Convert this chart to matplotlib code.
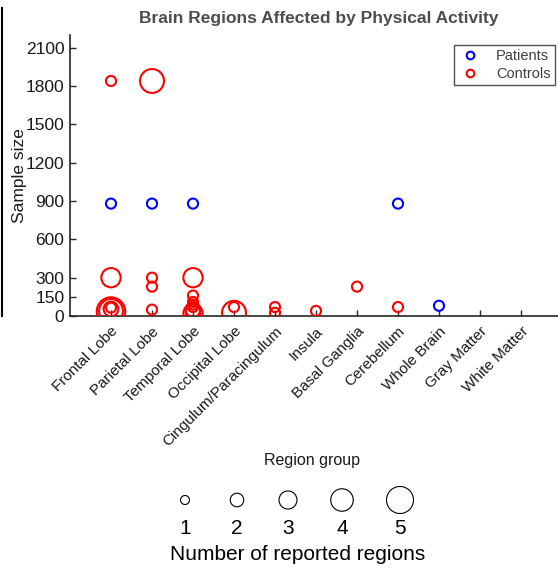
import matplotlib
matplotlib.use("Agg")
import matplotlib.pyplot as plt
from matplotlib.lines import Line2D

plt.rcParams["font.family"] = ["Liberation Sans", "DejaVu Sans"]

REGIONS = [
    "Frontal Lobe", "Parietal Lobe", "Temporal Lobe", "Occipital Lobe",
    "Cingulum/Paracingulum", "Insula", "Basal Ganglia", "Cerebellum",
    "Whole Brain", "Gray Matter", "White Matter",
]

# patients: region index, sample size, number of reported regions
patient_region = [0, 1, 2, 7, 8]
patient_size = [880, 880, 880, 880, 80]
patient_count = [1, 1, 1, 1, 1]

# controls
control_region = [0, 0, 0, 0, 0, 0,
                  1, 1, 1, 1,
                  2, 2, 2, 2, 2, 2, 2, 2,
                  3, 3,
                  4, 4,
                  5, 6, 7]
control_size = [1840, 300, 35, 40, 55, 65,
                1840, 300, 230, 50,
                300, 160, 110, 90, 70, 50, 30, 20,
                70, 25,
                70, 25,
                40, 230, 70]
control_count = [1, 3, 5, 4, 2, 1,
                 4, 1, 1, 1,
                 3, 1, 1, 1, 1, 2, 2, 3,
                 1, 4,
                 1, 1,
                 1, 1, 1]

Y_TICKS = [0, 150, 300, 600, 900, 1200, 1500, 1800, 2100]
LEGEND_COUNTS = [1, 2, 3, 4, 5]


def marker_area(count):
    # marker diameter in pixels grows with the number of regions
    diameter_pt = (5.5 + 4.6 * count) * 0.72
    return diameter_pt ** 2


W, H = 558, 570
fig = plt.figure(figsize=(W / 100, H / 100), dpi=100)
ax = fig.add_axes([70 / W, (H - 316) / H, (562 - 70) / W, (316 - 35) / H])

ax.scatter(
    [r + 1 for r in patient_region], patient_size,
    s=[marker_area(c) for c in patient_count],
    facecolors="none", edgecolors="#0000ff", linewidths=1.5, zorder=3,
)
ax.scatter(
    [r + 1 for r in control_region], control_size,
    s=[marker_area(c) for c in control_count],
    facecolors="none", edgecolors="#ff0000", linewidths=1.5, zorder=3,
)

ax.set_xlim(0, 12)
ax.set_ylim(0, 2200)
ax.set_xticks(range(1, len(REGIONS) + 1))
ax.set_xticklabels(REGIONS, rotation=45, ha="right", rotation_mode="anchor",
                   fontsize=11)
ax.set_yticks(Y_TICKS)
ax.set_yticklabels([str(v) for v in Y_TICKS], fontsize=12.5)
ax.tick_params(direction="in", length=4, width=1, color="#262626",
               labelcolor="#1a1a1a")
ax.tick_params(axis="x", pad=6)
ax.tick_params(axis="y", pad=4)
for side in ["top", "right"]:
    ax.spines[side].set_visible(False)
for side in ["left", "bottom"]:
    ax.spines[side].set_color("#262626")
    ax.spines[side].set_linewidth(1.2)

ax.set_ylabel("Sample size", fontsize=12.5, color="#1a1a1a",
              va="center", ha="center")
ax.yaxis.set_label_coords((20 - 70) / 492, 0.50)
fig.text(312 / W, 1 - 461 / H, "Region group", fontsize=11.5,
         ha="center", va="center", color="#1a1a1a")
fig.text(319 / W, 1 - 18 / H, "Brain Regions Affected by Physical Activity",
         fontsize=12.5, fontweight="bold", ha="center", va="center",
         color="#4d4d4d")

handles = [
    Line2D([], [], marker="o", linestyle="none", markerfacecolor="none",
           markeredgecolor="#0000ff", markeredgewidth=1.5, markersize=5.5,
           label="Patients"),
    Line2D([], [], marker="o", linestyle="none", markerfacecolor="none",
           markeredgecolor="#ff0000", markeredgewidth=1.5, markersize=5.5,
           label="Controls"),
]
leg = fig.legend(handles=handles, loc="upper right",
                 bbox_to_anchor=(555 / W, 1 - 45 / H), fontsize=10.5,
                 frameon=True, fancybox=False, handlelength=1.6,
                 handletextpad=1.0, borderpad=0.3, labelspacing=0.25,
                 borderaxespad=0, edgecolor="#262626")
leg.get_frame().set_linewidth(1.0)
for t in leg.get_texts():
    t.set_color("#404040")

# size key below the chart
key_ax = fig.add_axes([0, 0, 1, 1], facecolor="none")
key_ax.set_xlim(0, W)
key_ax.set_ylim(H, 0)
key_ax.axis("off")
key_x = [185, 237, 288, 342, 400]
key_ax.scatter(key_x, [500] * len(LEGEND_COUNTS),
               s=[(((4.5 * c) + 4.5) * 0.72) ** 2 for c in LEGEND_COUNTS],
               facecolors="none", edgecolors="black", linewidths=0.8)
for x, c in zip(key_x, LEGEND_COUNTS):
    key_ax.text(x, 528, str(c), fontsize=15, ha="center", va="center")
key_ax.text(298, 555, "Number of reported regions", fontsize=15,
            ha="center", va="center")

# thin border line at the left edge of the crop
key_ax.plot([2, 2], [8, 316], color="black", linewidth=1.5)

fig.savefig("out.png", dpi=100)
